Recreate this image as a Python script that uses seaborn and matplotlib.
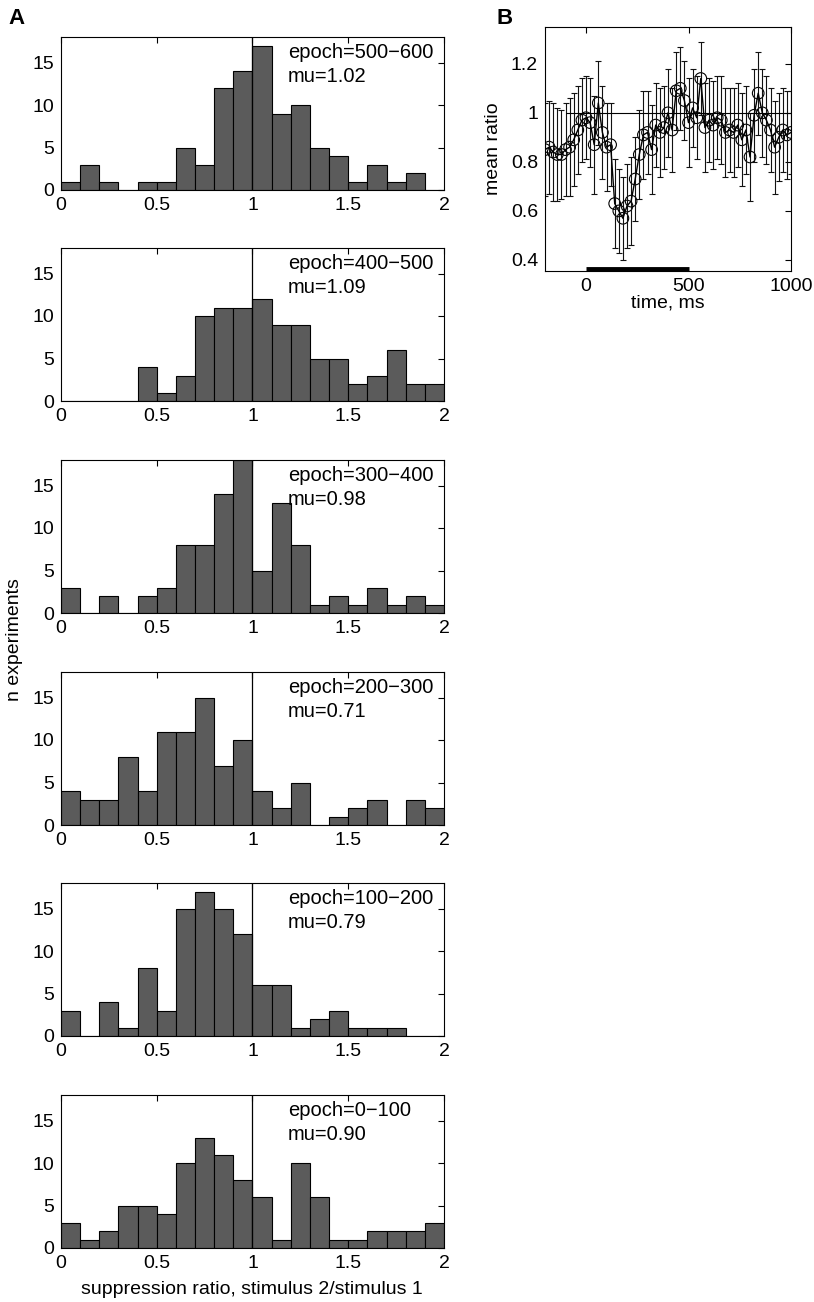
import pandas as pd
import seaborn as sns
import matplotlib
matplotlib.use("Agg")
import matplotlib.pyplot as plt

# ---- panel A data: counts per 0.1-wide bin from 0 to 2 ----
bin_edges = [round(0.1 * i, 2) for i in range(21)]
bin_centers = [round(0.05 + 0.1 * i, 2) for i in range(20)]

epochs = ["500\u2212600", "400\u2212500", "300\u2212400", "200\u2212300", "100\u2212200", "0\u2212100"]
mus = ["1.02", "1.09", "0.98", "0.71", "0.79", "0.90"]

counts_500 = [1, 3, 1, 0, 1, 1, 5, 3, 12, 14, 17, 9, 10, 5, 4, 1, 3, 1, 2, 0]
counts_400 = [0, 0, 0, 0, 4, 1, 3, 10, 11, 11, 12, 9, 9, 5, 5, 2, 3, 6, 2, 2]
counts_300 = [3, 0, 2, 0, 2, 3, 8, 8, 14, 18, 5, 13, 8, 1, 2, 1, 3, 1, 2, 1]
counts_200 = [4, 3, 3, 8, 4, 11, 11, 15, 7, 10, 4, 2, 5, 0, 1, 2, 3, 0, 3, 2]
counts_100 = [3, 0, 4, 1, 8, 3, 15, 17, 15, 12, 6, 6, 1, 2, 3, 1, 1, 1, 0, 0]
counts_0 = [3, 1, 2, 5, 5, 4, 10, 13, 11, 8, 6, 1, 10, 6, 1, 1, 2, 2, 2, 3]
all_counts = [counts_500, counts_400, counts_300, counts_200, counts_100, counts_0]

hist_xticks = [0, 0.5, 1, 1.5, 2]
hist_xticklabels = ["0", "0.5", "1", "1.5", "2"]
hist_yticks = [0, 5, 10, 15]

# ---- panel B data: mean ratio every 20 ms with error bars ----
time_ms = list(range(-200, 1001, 20))
mean_ratio = [0.85, 0.86, 0.84, 0.83, 0.83, 0.85, 0.86, 0.89, 0.93, 0.97,
              0.98, 0.96, 0.87, 1.04, 0.92, 0.86, 0.87, 0.63, 0.60, 0.57,
              0.62, 0.64, 0.73, 0.83, 0.91, 0.92, 0.85, 0.95, 0.92, 0.94,
              1.00, 0.93, 1.09, 1.10, 1.05, 0.96, 1.02, 0.98, 1.14, 0.94,
              0.97, 0.95, 0.98, 0.97, 0.92, 0.93, 0.92, 0.95, 0.89, 0.93,
              0.82, 0.99, 1.08, 1.00, 0.97, 0.93, 0.86, 0.90, 0.93, 0.91,
              0.92]
ratio_err = [0.19, 0.19, 0.20, 0.19, 0.18, 0.19, 0.20, 0.19, 0.18, 0.17,
             0.17, 0.18, 0.20, 0.17, 0.19, 0.18, 0.17, 0.18, 0.17, 0.17,
             0.17, 0.18, 0.17, 0.18, 0.18, 0.17, 0.18, 0.17, 0.18, 0.17,
             0.18, 0.17, 0.16, 0.17, 0.16, 0.18, 0.16, 0.17, 0.15, 0.18,
             0.17, 0.18, 0.17, 0.18, 0.18, 0.17, 0.18, 0.17, 0.19, 0.18,
             0.18, 0.19, 0.17, 0.18, 0.18, 0.17, 0.19, 0.18, 0.17, 0.18,
             0.17]
ratio_yticks = [0.4, 0.6, 0.8, 1.0, 1.2]
ratio_yticklabels = ["0.4", "0.6", "0.8", "1", "1.2"]
time_xticks = [0, 500, 1000]
stim_on, stim_off = 0, 500


def style_box(ax):
    for sp in ax.spines.values():
        sp.set_visible(True)
        sp.set_color("black")
        sp.set_linewidth(0.8)
    ax.tick_params(direction="in", top=True, right=True, length=4,
                   width=0.8, labelsize=14, pad=5, colors="black")


sns.set_style("white")
plt.rcParams["font.family"] = ["Liberation Sans", "DejaVu Sans"]
plt.rcParams["text.color"] = "black"
plt.rcParams["axes.labelcolor"] = "black"

W, H = 814, 1302
fig = plt.figure(figsize=(W / 100, H / 100), dpi=100)

tops = [37, 248, 460, 672, 883, 1095]
ph = 153
for top, counts, ep, mu in zip(tops, all_counts, epochs, mus):
    ax = fig.add_axes([61 / W, 1 - (top + ph) / H, 383 / W, ph / H])
    hdf = pd.DataFrame({"ratio": bin_centers, "n": counts})
    sns.histplot(data=hdf, x="ratio", weights="n", bins=bin_edges, ax=ax,
                 color="#5b5b5b", edgecolor="black", linewidth=0.8, alpha=1)
    ax.axvline(1, color="black", lw=0.9)
    ax.set_xlim(0, 2)
    ax.set_ylim(0, 18)
    ax.set_xticks(hist_xticks)
    ax.set_xticklabels(hist_xticklabels)
    ax.set_yticks(hist_yticks)
    ax.set_xlabel("")
    ax.set_ylabel("")
    style_box(ax)
    ax.text(0.593, 0.90, "epoch=" + ep, transform=ax.transAxes,
            fontsize=14.5, va="center", ha="left")
    ax.text(0.593, 0.74, "mu=" + mu, transform=ax.transAxes,
            fontsize=14.5, va="center", ha="left")

fig.text(15 / W, 1 - 640 / H, "n experiments", rotation=90,
         ha="center", va="center", fontsize=14)
fig.text(252 / W, 1 - 1289 / H, "suppression ratio, stimulus 2/stimulus 1",
         ha="center", va="center", fontsize=14)

# ---- panel B ----
axb = fig.add_axes([545 / W, 1 - 271 / H, 246 / W, 244 / H])
df = pd.DataFrame({"time": time_ms, "ratio": mean_ratio, "err": ratio_err})
axb.errorbar(df["time"], df["ratio"], yerr=df["err"], fmt="none",
             ecolor="#111111", elinewidth=0.8, capsize=2.5, capthick=0.8)
sns.lineplot(data=df, x="time", y="ratio", ax=axb, color="black", lw=1.0)
sns.scatterplot(data=df, x="time", y="ratio", ax=axb, s=70,
                facecolors="none", edgecolor="black", linewidth=0.8, marker="o")
axb.plot([-100, 1000], [1, 1], color="black", lw=0.8)
axb.plot([stim_on, stim_off], [0.363, 0.363], color="black", lw=3.5,
         solid_capstyle="butt")
axb.set_xlim(-200, 1000)
axb.set_ylim(0.355, 1.35)
axb.set_xticks(time_xticks)
axb.set_yticks(ratio_yticks)
axb.set_yticklabels(ratio_yticklabels)
axb.set_xlabel("time, ms", fontsize=14, labelpad=0)
axb.set_ylabel("mean ratio", fontsize=14, labelpad=6)
style_box(axb)

fig.text(8 / W, 1 - 18 / H, "A", fontsize=16, fontweight="bold",
         ha="left", va="center")
fig.text(497 / W, 1 - 18 / H, "B", fontsize=16, fontweight="bold",
         ha="left", va="center")

fig.savefig("out.png", dpi=100)
